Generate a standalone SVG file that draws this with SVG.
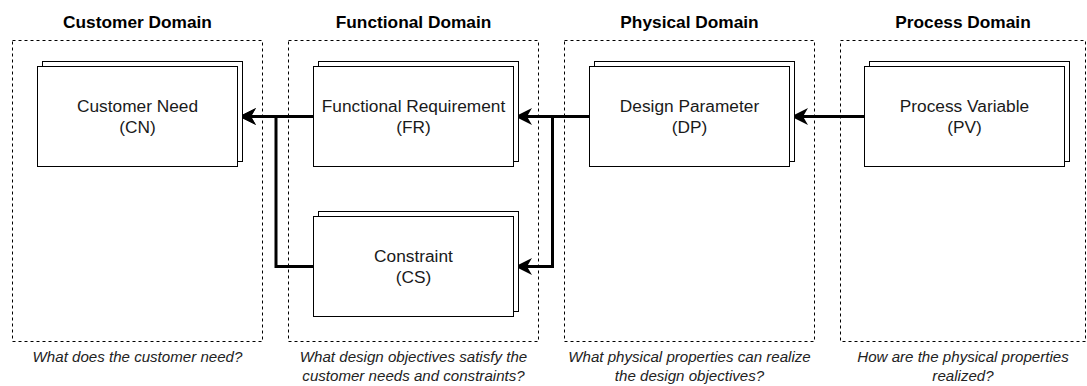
<svg xmlns="http://www.w3.org/2000/svg" width="1087" height="386" viewBox="0 0 1087 386">
  <style>
    .domain { fill: none; stroke: #000; stroke-width: 1; stroke-dasharray: 3 3; }
    .card { fill: #fff; stroke: #000; stroke-width: 1; }
    .title { font-family: "Liberation Sans", Arial, Helvetica, sans-serif; font-size: 17.3px; font-weight: bold; fill: #000; text-anchor: middle; }
    .label { font-family: "Liberation Sans", Arial, Helvetica, sans-serif; font-size: 17.3px; fill: #1a1a1a; text-anchor: middle; }
    .caption { font-family: "Liberation Sans", Arial, Helvetica, sans-serif; font-size: 15.1px; font-style: italic; fill: #222; text-anchor: middle; }
    .conn { fill: none; stroke: #000; stroke-width: 3; stroke-linejoin: miter; marker-end: url(#arrow); }
  </style>
  <defs>
    <marker id="arrow" markerUnits="userSpaceOnUse" viewBox="0 0 18 18" markerWidth="18" markerHeight="18" refX="5" refY="9" orient="auto">
      <path d="M0,0.5 L17,9 L0,17.5 L5,9 Z" fill="#000"/>
    </marker>
  </defs>
  <rect width="1087" height="386" fill="#fff"/>

  <g id="customer-domain">
    <rect class="domain" x="12.5" y="40.5" width="250" height="301"/>
    <text class="title" x="137.5" y="28">Customer Domain</text>
    <text class="caption" x="137.5" y="362">What does the customer need?</text>
  </g>
  <g id="functional-domain">
    <rect class="domain" x="288.5" y="40.5" width="250" height="301"/>
    <text class="title" x="413.5" y="28">Functional Domain</text>
    <text class="caption" x="413.5" y="362">What design objectives satisfy the</text>
    <text class="caption" x="413.5" y="381">customer needs and constraints?</text>
  </g>
  <g id="physical-domain">
    <rect class="domain" x="564.5" y="40.5" width="250" height="301"/>
    <text class="title" x="689.5" y="28">Physical Domain</text>
    <text class="caption" x="689.5" y="362">What physical properties can realize</text>
    <text class="caption" x="689.5" y="381">the design objectives?</text>
  </g>
  <g id="process-domain">
    <rect class="domain" x="840.5" y="40.5" width="245" height="301"/>
    <text class="title" x="963" y="28">Process Domain</text>
    <text class="caption" x="963" y="362">How are the physical properties</text>
    <text class="caption" x="963" y="381">realized?</text>
  </g>

  <g id="connectors">
    <path class="conn" d="M313.5,116.5 L251,116.5"/>
    <path class="conn" d="M313.5,266.5 L276,266.5 L276,116.5 L251,116.5"/>
    <path class="conn" d="M589.5,116.5 L527,116.5"/>
    <path class="conn" d="M589.5,116.5 L552.5,116.5 L552.5,266.5 L527,266.5"/>
    <path class="conn" d="M864.5,116.5 L803,116.5"/>
  </g>

  <g id="node-cn">
    <rect class="card" x="42.5" y="61.5" width="200" height="100"/>
    <rect class="card" x="37.5" y="66.5" width="200" height="100"/>
    <text class="label" x="137.5" y="112">Customer Need</text>
    <text class="label" x="137.5" y="133">(CN)</text>
  </g>
  <g id="node-fr">
    <rect class="card" x="318.5" y="61.5" width="200" height="100"/>
    <rect class="card" x="313.5" y="66.5" width="200" height="100"/>
    <text class="label" x="413.5" y="112">Functional Requirement</text>
    <text class="label" x="413.5" y="133">(FR)</text>
  </g>
  <g id="node-cs">
    <rect class="card" x="318.5" y="211.5" width="200" height="100"/>
    <rect class="card" x="313.5" y="216.5" width="200" height="100"/>
    <text class="label" x="413.5" y="262">Constraint</text>
    <text class="label" x="413.5" y="283">(CS)</text>
  </g>
  <g id="node-dp">
    <rect class="card" x="594.5" y="61.5" width="200" height="100"/>
    <rect class="card" x="589.5" y="66.5" width="200" height="100"/>
    <text class="label" x="689.5" y="112">Design Parameter</text>
    <text class="label" x="689.5" y="133">(DP)</text>
  </g>
  <g id="node-pv">
    <rect class="card" x="869.5" y="61.5" width="200" height="100"/>
    <rect class="card" x="864.5" y="66.5" width="200" height="100"/>
    <text class="label" x="964.5" y="112">Process Variable</text>
    <text class="label" x="964.5" y="133">(PV)</text>
  </g>
</svg>
